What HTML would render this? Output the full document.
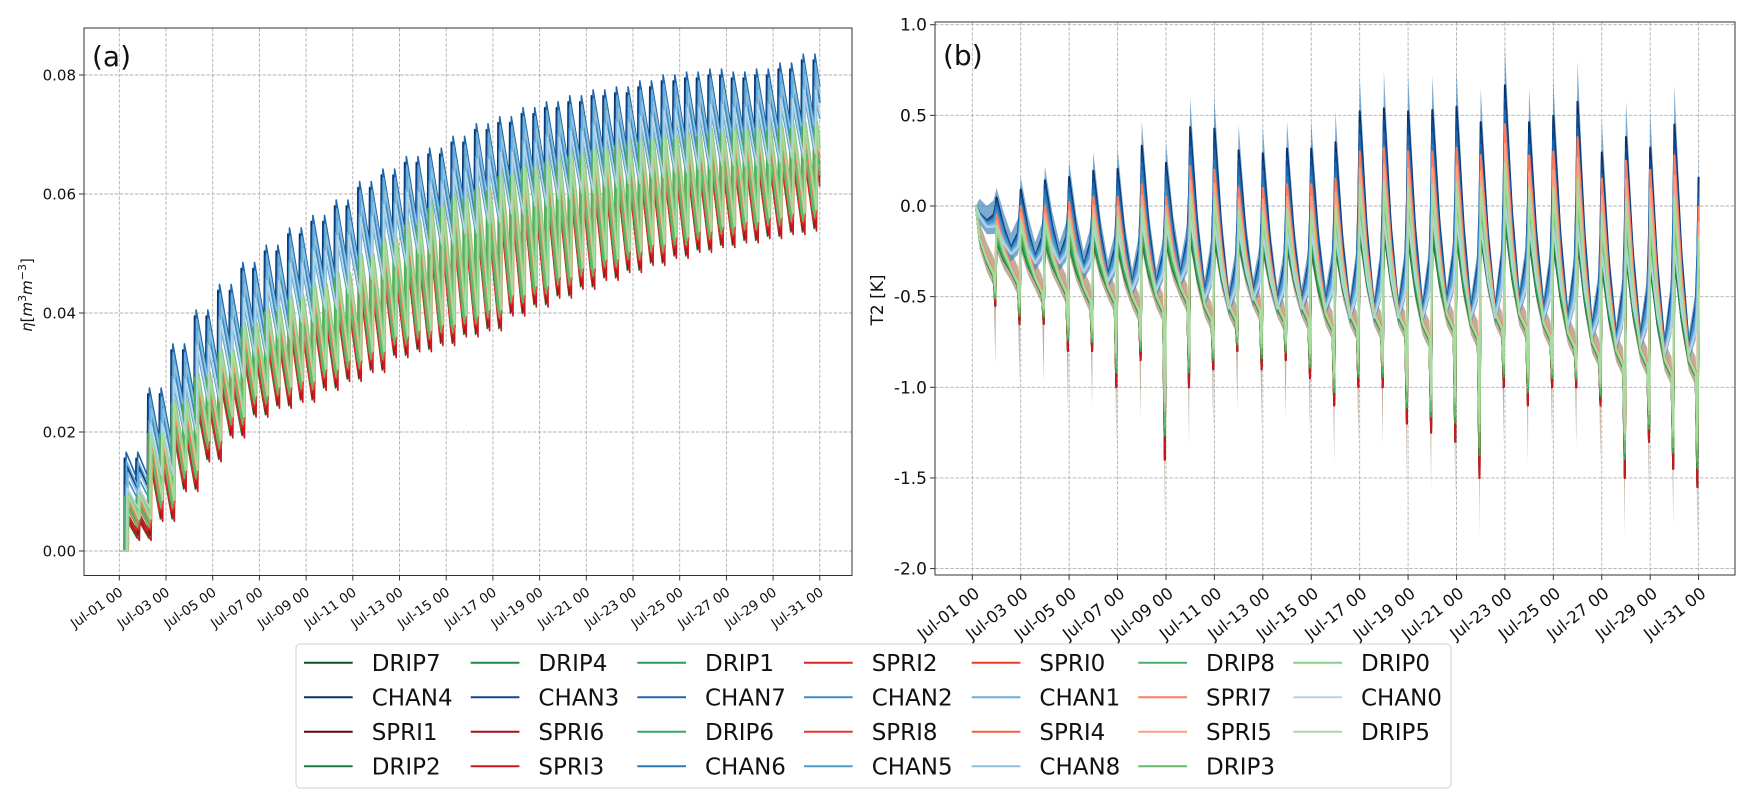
<!DOCTYPE html>
<html><head><meta charset="utf-8"><style>
html,body{margin:0;padding:0;background:#fff;}
svg{display:block;font-family:"DejaVu Sans","Liberation Sans",sans-serif;}
</style></head><body>
<svg id="fig" width="1755" height="807" viewBox="0 0 1755 807" xmlns="http://www.w3.org/2000/svg">
<g id="left"></g>
<g id="right"></g>
<g id="legend"></g>
</svg>
<script>
// ---------- shared data ----------
const seriesNames = ["DRIP7","CHAN4","SPRI1","DRIP2","DRIP4","CHAN3","SPRI6","SPRI3","DRIP1","CHAN7","DRIP6","CHAN6","SPRI2","CHAN2","SPRI8","CHAN5","SPRI0","CHAN1","SPRI4","CHAN8","DRIP8","SPRI7","SPRI5","DRIP3","DRIP0","CHAN0","DRIP5"];
const seriesColors = ["#0b4d23","#08306b","#67000d","#1a7a3a","#1d8a43","#0d4a92","#a50f15","#cb181d","#2e9a4f","#1f66ad","#3aa55a","#2b7bba","#d92523","#3d8dc4","#e6352a","#4f9bcb","#ef3b2c","#6aaed6","#f4603f","#8dc0dd","#4daf5e","#fb7c5c","#fc9f82","#63bb6a","#8acf86","#b3d3e8","#a8dba0"];
const xTickLabels = ["Jul-01 00","Jul-03 00","Jul-05 00","Jul-07 00","Jul-09 00","Jul-11 00","Jul-13 00","Jul-15 00","Jul-17 00","Jul-19 00","Jul-21 00","Jul-23 00","Jul-25 00","Jul-27 00","Jul-29 00","Jul-31 00"];
const xTickDays = [0,2,4,6,8,10,12,14,16,18,20,22,24,26,28,30];

// ---------- panel (a) data: daily envelopes ----------
const chanPeak = [0.0166,0.0274,0.0348,0.0405,0.0448,0.0485,0.0514,0.0543,0.0564,0.059,0.0621,0.0642,0.0663,0.0677,0.0697,0.0718,0.073,0.0745,0.0755,0.0765,0.0775,0.078,0.079,0.080,0.0805,0.081,0.0805,0.081,0.082,0.0835];
const chanLow  = [0.0120,0.0175,0.0245,0.0300,0.0340,0.0375,0.0405,0.0432,0.0455,0.0480,0.0505,0.0527,0.0548,0.0563,0.0582,0.0600,0.0614,0.0628,0.0640,0.0650,0.0660,0.0666,0.0675,0.0684,0.0690,0.0696,0.0695,0.0700,0.0708,0.0716];
const otherPeak = [0.0100,0.0205,0.0255,0.0300,0.0340,0.0384,0.0410,0.0430,0.0450,0.0468,0.0500,0.0526,0.0555,0.0584,0.0600,0.0613,0.0637,0.0650,0.0660,0.0670,0.0680,0.0688,0.0695,0.0700,0.0705,0.0710,0.0713,0.0716,0.0718,0.0722];
const otherLow  = [0.0058,0.0090,0.0140,0.0190,0.0230,0.0265,0.0280,0.0290,0.0310,0.0325,0.0340,0.0365,0.0375,0.0385,0.0400,0.0410,0.0435,0.0450,0.0465,0.0480,0.0495,0.0508,0.0520,0.0532,0.0542,0.0550,0.0558,0.0565,0.0572,0.0578];
const leftOffsets = [0.0040,0.0010,0.0036,0.0045,0.0028,0.0020,0.0042,0.0050,0.0018,0.0000,0.0012,0.0030,0.0030,0.0045,0.0026,0.0055,0.0020,0.0015,0.0016,0.0035,0.0008,0.0012,0.0004,0.0022,0.0000,0.0060,0.0006];
const leftLag = [0.10,0.00,0.12,0.06,0.14,0.03,0.08,0.16,0.04,0.07,0.18,0.10,0.02,0.13,0.11,0.05,0.15,0.09,0.06,0.16,0.01,0.12,0.19,0.08,0.17,0.11,0.14];
const yTicksA = [0.00,0.02,0.04,0.06,0.08];

// ---------- panel (b) data ----------
const bluePeak = [0.0,0.10,0.16,0.22,0.25,0.30,0.32,0.47,0.35,0.60,0.60,0.45,0.44,0.47,0.47,0.52,0.72,0.74,0.72,0.72,0.75,0.65,0.88,0.65,0.70,0.80,0.48,0.58,0.52,0.67,0.33];
const blueNight = [-0.10,-0.25,-0.30,-0.30,-0.35,-0.40,-0.45,-0.45,-0.40,-0.50,-0.55,-0.50,-0.55,-0.55,-0.55,-0.60,-0.60,-0.60,-0.60,-0.55,-0.60,-0.60,-0.55,-0.60,-0.65,-0.70,-0.75,-0.75,-0.80,-0.80];
const rgUp = [0.0,-0.05,0.0,0.0,0.02,0.05,0.05,0.12,0.05,0.22,0.20,0.10,0.10,0.12,0.12,0.15,0.30,0.32,0.30,0.30,0.32,0.28,0.45,0.28,0.30,0.38,0.15,0.25,0.20,0.28,0.0];
const rgMin = [0.0,-0.55,-0.65,-0.65,-0.80,-0.80,-1.00,-0.85,-1.40,-1.00,-0.90,-0.80,-0.90,-0.85,-0.95,-1.10,-1.00,-1.00,-1.20,-1.25,-1.30,-1.50,-1.00,-1.10,-1.00,-1.00,-1.10,-1.50,-1.30,-1.45,-1.55];
const rgNight = [-0.30,-0.35,-0.40,-0.40,-0.45,-0.45,-0.50,-0.50,-0.45,-0.55,-0.55,-0.50,-0.55,-0.55,-0.60,-0.60,-0.60,-0.60,-0.65,-0.60,-0.65,-0.60,-0.60,-0.65,-0.70,-0.75,-0.80,-0.80,-0.85,-0.85];
const upFactor  = [0.5,0.85,0.6,0.5,0.55,0.8,0.6,0.6,0.55,0.75,0.6,0.7,0.7,0.65,0.75,0.6,0.95,0.5,1.0,0.45,0.65,1.0,0.9,0.7,0.75,0.4,0.8];
const dipFactor = [1.0,0.0,1.0,0.95,0.9,0.0,0.95,1.0,0.85,0.0,0.85,0.0,0.8,0.0,0.75,0.0,0.6,0.0,0.55,0.0,0.8,0.5,0.45,0.8,0.7,0.0,0.65];
const yTicksB = [1.0,0.5,0.0,-0.5,-1.0,-1.5,-2.0];
const yTickLabelsB = ["1.0","0.5","0.0","-0.5","-1.0","-1.5","-2.0"];

const NS="http://www.w3.org/2000/svg";
function mk(tag, parent, attrs){const e=document.createElementNS(NS,tag);for(const k in attrs)e.setAttribute(k,attrs[k]);parent.appendChild(e);return e;}

// ---------- panel (a) ----------
(function(){
  const g=document.getElementById('left');
  const L=84,R=852,T=28,B=575.5;
  const xA=t=>119.3+t*23.35, yA=v=>551-v*5950;
  const grid=mk('g',g,{});
  
  
  xTickDays.forEach(d=>{mk('line',grid,{x1:xA(d),x2:xA(d),y1:T,y2:B,stroke:'#b0b0b0','stroke-width':0.9,'stroke-dasharray':'3.5,1.6'});});
  yTicksA.forEach(v=>{mk('line',grid,{x1:L,x2:R,y1:yA(v),y2:yA(v),stroke:'#b0b0b0','stroke-width':0.9,'stroke-dasharray':'3.5,1.6'});});
  const lines=mk('g',g,{});
  
  
  seriesNames.forEach((nm,i)=>{
    const isChan=nm.startsWith('CHAN');
    const P=isChan?chanPeak:otherPeak, Lo=isChan?chanLow:otherLow;
    const o=leftOffsets[i], lag=leftLag[i];
    const t0=0.2+lag;
    const pts=[[0,0],[t0,0]];
    let prev=0;
    for(let d=0;d<30;d++){
      for(let h=0;h<2;h++){
        const ts=d+t0+h*0.5;
        if(ts>=30)break;
        const pk=Math.max(0,P[d]-o), lo=Math.max(0,Lo[d]-o*0.8);
        pts.push([ts,prev]);pts.push([Math.min(ts+0.02,30),pk]);
        const te=Math.min(ts+0.5,30);
        const lv=pk+(lo-pk)*((te-ts)/0.5);
        pts.push([te,lv]);prev=lv;
      }
    }
    const p=mk('path',lines,{d:'M'+pts.map(q=>xA(q[0]).toFixed(1)+','+yA(q[1]).toFixed(1)).join('L'),fill:'none',stroke:seriesColors[i],'stroke-width':1.6,'stroke-linejoin':'round'});
    
    
  });
  const frame=mk('rect',g,{x:L,y:T,width:R-L,height:B-T,fill:'none',stroke:'#333','stroke-width':1});
  
  
  yTicksA.forEach(v=>{
    mk('line',g,{x1:L-5,x2:L,y1:yA(v),y2:yA(v),stroke:'#333','stroke-width':1});
    const t=mk('text',g,{x:L-8,y:yA(v)+5.5,'text-anchor':'end','font-size':15,fill:'#111'});
    t.textContent=v.toFixed(2);
    
    
  });
  xTickDays.forEach((d,i)=>{
    mk('line',g,{x1:xA(d),x2:xA(d),y1:B,y2:B+5,stroke:'#333','stroke-width':1});
    const x=xA(d)-1,y=B+11;
    const t=mk('text',g,{x:x,y:y,'text-anchor':'end','font-size':13.5,fill:'#111',transform:`rotate(-35 ${x} ${y})`,'dominant-baseline':'hanging'});
    t.textContent=xTickLabels[i];
    
    
  });
  const yt=mk('text',g,{x:0,y:0,'text-anchor':'middle','font-size':15,fill:'#111',transform:'translate(32,295) rotate(-90)'});
  yt.innerHTML='<tspan font-style="italic">η</tspan>[<tspan font-style="italic">m</tspan><tspan dy="-6" font-size="11">3</tspan><tspan dy="6" font-style="italic">m</tspan><tspan dy="-6" font-size="11">−3</tspan><tspan dy="6">]</tspan>';
  
  
  const lab=mk('text',g,{x:92,y:66,'font-size':28,fill:'#111'});
  lab.textContent='(a)';
  
  
})();

// ---------- panel (b) ----------
(function(){
  const g=document.getElementById('right');
  const L=935,R=1735,T=22,B=575;
  const xB=t=>972.3+t*24.21, yB=v=>206-v*181.3;
  const grid=mk('g',g,{});
  
  
  xTickDays.forEach(d=>{mk('line',grid,{x1:xB(d),x2:xB(d),y1:T,y2:B,stroke:'#b0b0b0','stroke-width':0.9,'stroke-dasharray':'3.5,1.6'});});
  yTicksB.forEach(v=>{mk('line',grid,{x1:L,x2:R,y1:yB(v),y2:yB(v),stroke:'#b0b0b0','stroke-width':0.9,'stroke-dasharray':'3.5,1.6'});});

  const times=[0,0.15];
  const kinds=['f','f'];
  for(let d=0;d<30;d++){
    times.push(d+0.3);kinds.push('a');
    times.push(d+0.6);kinds.push('n');
    times.push(d+0.88);kinds.push('m');
    times.push(d+0.95);kinds.push('dip');
    times.push(d+1);kinds.push('pk');
  }
  function seriesVals(i){
    const nm=seriesNames[i], isChan=nm.startsWith('CHAN');
    const u=upFactor[i], m=dipFactor[i];
    const out=[0,0];
    for(let d=0;d<30;d++){
      if(isChan){
        const n=blueNight[d]+0.08*(u-0.6);
        const pkPrev=n+(bluePeak[d]-n)*u, pkNext=blueNight[Math.min(d+1,29)]+(bluePeak[d+1]-blueNight[Math.min(d+1,29)])*u;
        out.push(d===0?n*0.5:pkPrev+(n-pkPrev)*0.6);
        out.push(n);out.push(n+(pkNext-n)*0.25);out.push(n+(pkNext-n)*0.55);out.push(pkNext);
      }else{
        const n=rgNight[d]+0.06*(u-0.7);
        const upPrev=n+(rgUp[d]-n)*u;
        const nn=rgNight[Math.min(d+1,29)];
        const upNext=nn+(rgUp[d+1]-nn)*u;
        out.push(d===0?n*0.6:upPrev+(n-upPrev)*0.6);
        out.push(n);out.push(n-0.08);out.push(n+(rgMin[d+1]-n)*m);out.push(upNext);
      }
    }
    return out;
  }
  const all=seriesNames.map((_,i)=>seriesVals(i));
  const chanIdx=[],rgIdx=[];
  seriesNames.forEach((nm,i)=>(nm.startsWith('CHAN')?chanIdx:rgIdx).push(i));
  function band(lower,upper,fill,name){
    let d='M';
    d+=times.map((t,k)=>xB(t).toFixed(1)+','+yB(upper[k]).toFixed(1)).join('L');
    d+='L'+times.map((t,k)=>[t,k]).reverse().map(([t,k])=>xB(t).toFixed(1)+','+yB(lower[k]).toFixed(1)).join('L')+'Z';
    const p=mk('path',g,{d:d,fill:fill,stroke:'none'});
    
    
  }
  const bl=[],bu=[],cl=[],cu=[];
  times.forEach((t,k)=>{
    if(k<2){bl.push(0);bu.push(0);cl.push(0);cu.push(0);return;}
    let mn=Infinity,mx=-Infinity;rgIdx.forEach(i=>{mn=Math.min(mn,all[i][k]);mx=Math.max(mx,all[i][k]);});
    const kd=kinds[k];
    bl.push(mn-(kd==='dip'?0.32:0.05));bu.push(mx+(kd==='pk'?0.12:0.08));
    let cmn=Infinity,cmx=-Infinity;chanIdx.forEach(i=>{cmn=Math.min(cmn,all[i][k]);cmx=Math.max(cmx,all[i][k]);});
    const d=Math.round(t);
    cl.push(cmn-0.04);cu.push(kd==='pk'?Math.max(cmx,bluePeak[d]):cmx+0.08);
  });
  band(bl,bu,'rgba(140,105,75,0.55)','spread-band-drip-spri');
  band(cl,cu,'rgba(70,135,185,0.7)','spread-band-chan');
  const lines=mk('g',g,{});
  
  
  seriesNames.forEach((nm,i)=>{
    const v=all[i];
    const p=mk('path',lines,{d:'M'+times.map((t,k)=>xB(t).toFixed(1)+','+yB(v[k]).toFixed(1)).join('L'),fill:'none',stroke:seriesColors[i],'stroke-width':2,'stroke-linejoin':'round'});
    
    
  });
  const frame=mk('rect',g,{x:L,y:T,width:R-L,height:B-T,fill:'none',stroke:'#333','stroke-width':1});
  
  
  yTicksB.forEach((v,i)=>{
    mk('line',g,{x1:L-5,x2:L,y1:yB(v),y2:yB(v),stroke:'#333','stroke-width':1});
    const t=mk('text',g,{x:L-8,y:yB(v)+6,'text-anchor':'end','font-size':17,fill:'#111'});
    t.textContent=yTickLabelsB[i];
    
    
  });
  xTickDays.forEach((d,i)=>{
    mk('line',g,{x1:xB(d),x2:xB(d),y1:B,y2:B+5,stroke:'#333','stroke-width':1});
    const x=xB(d)+1,y=B+11;
    const t=mk('text',g,{x:x,y:y,'text-anchor':'end','font-size':16.5,fill:'#111',transform:`rotate(-38 ${x} ${y})`,'dominant-baseline':'hanging'});
    t.textContent=xTickLabels[i];
    
    
  });
  const yt=mk('text',g,{x:0,y:0,'text-anchor':'middle','font-size':17,fill:'#111',transform:'translate(883,300) rotate(-90)'});
  yt.textContent='T2 [K]';
  
  
  const lab=mk('text',g,{x:943,y:65,'font-size':28,fill:'#111'});
  lab.textContent='(b)';
  
  
})();

// ---------- legend ----------
(function(){
  const g=document.getElementById('legend');
  const box=mk('rect',g,{x:296,y:644,width:1155,height:144,rx:4,fill:'#fff',stroke:'#d0d0d0','stroke-width':1});
  
  
  const colX=[304,470.7,637.3,804,971.7,1138.3,1293.3];
  const rowY=[662.7,697.2,731.7,766.2];
  seriesNames.forEach((nm,i)=>{
    const c=Math.floor(i/4), r=i%4;
    const e=mk('g',g,{});
    
    
    mk('line',e,{x1:colX[c],x2:colX[c]+48.7,y1:rowY[r],y2:rowY[r],stroke:seriesColors[i],'stroke-width':2});
    const t=mk('text',e,{x:colX[c]+67.7,y:rowY[r]+8.3,'font-size':23,fill:'#111'});
    t.textContent=nm;
  });
})();
</script>
</body></html>
